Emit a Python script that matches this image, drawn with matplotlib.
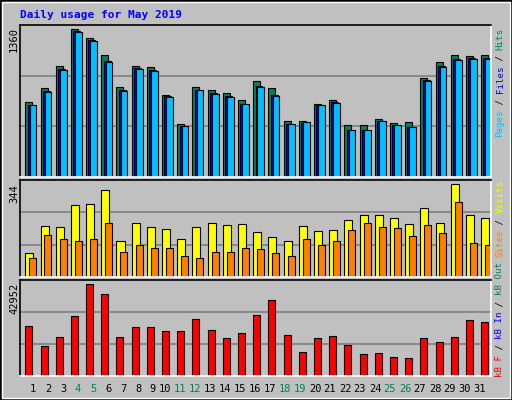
import numpy as np
import matplotlib
matplotlib.use("Agg")
import matplotlib.pyplot as plt
from matplotlib.patches import Rectangle

days = list(range(1, 32))
weekend = [4, 5, 11, 12, 18, 19, 25, 26]

hits = [685, 814, 1016, 1357, 1274, 1118, 823, 1016, 1007, 758, 491, 823, 795, 768, 703, 878,
        814, 519, 519, 675, 712, 482, 482, 537, 500, 510, 906, 1053, 1118, 1108, 1118]
files = [666, 786, 989, 1338, 1256, 1062, 795, 998, 979, 740, 473, 804, 768, 743, 675, 832,
         749, 491, 500, 666, 685, 436, 436, 519, 482, 464, 887, 1016, 1081, 1090, 1090]
pages = [660, 780, 985, 1335, 1250, 1058, 790, 994, 975, 735, 470, 800, 764, 738, 670, 828,
         745, 488, 505, 660, 682, 432, 432, 515, 478, 460, 884, 1012, 1078, 1086, 1086]
visits = [87, 188, 184, 266, 270, 322, 135, 199, 184, 176, 139, 184, 199, 191, 195, 165,
          147, 135, 188, 169, 173, 210, 229, 229, 217, 195, 255, 199, 344, 229, 217]
sites = [72, 154, 139, 135, 139, 199, 94, 120, 106, 109, 76, 72, 94, 94, 106, 102,
         87, 79, 139, 117, 135, 173, 199, 184, 180, 150, 191, 161, 277, 124, 120]
kbytes = [23200, 13800, 18030, 27910, 42952, 38260, 18030, 22740, 22740, 20850, 20850, 26500,
          21320, 17560, 19910, 28380, 35440, 18970, 10980, 17560, 18500, 14270, 10040, 10510,
          9090, 8620, 17560, 15680, 18030, 26030, 25090]

GRAY = "#C0C0C0"
GREEN = "#00805C"
BLUE = "#0000FF"
LBLUE = "#00C0FF"
YELLOW = "#FFFF00"
ORANGE = "#FF8000"
RED = "#FF0000"
MONO = "DejaVu Sans Mono"

W, H = 512, 400
fig = plt.figure(figsize=(W / 100, H / 100), dpi=100, facecolor=GRAY)


def px_axes(x0, y0, x1, y1):
    return fig.add_axes([x0 / W, 1 - y1 / H, (x1 - x0) / W, (y1 - y0) / H])


def style(ax, top):
    ax.set_facecolor(GRAY)
    ax.set_xlim(0, 31)
    ax.set_ylim(0, top)
    ax.set_xticks([])
    ax.set_yticks([top / 3, 2 * top / 3])
    ax.tick_params(left=False, labelleft=False)
    ax.grid(axis="y", color="#808080", linewidth=1.2)
    ax.set_axisbelow(True)
    for s in ("left", "top"):
        ax.spines[s].set_color("black")
    for s in ("right", "bottom"):
        ax.spines[s].set_color("white")
    for s in ax.spines.values():
        s.set_linewidth(1.2)


x = np.arange(31)
ek = dict(edgecolor="black", linewidth=0.8, align="edge")

ax1 = px_axes(20, 25, 491, 177)
style(ax1, 1360 * 152 / 148)
ax1.bar(x + 0.35, hits, 0.46, color=GREEN, **ek)
ax1.bar(x + 0.50, files, 0.46, color=BLUE, **ek)
ax1.bar(x + 0.63, pages, 0.44, color=LBLUE, **ek)

ax2 = px_axes(20, 180, 491, 277)
style(ax2, 344 * 97 / 93)
ax2.bar(x + 0.35, visits, 0.53, color=YELLOW, **ek)
ax2.bar(x + 0.61, sites, 0.46, color=ORANGE, **ek)

ax3 = px_axes(20, 280, 491, 376)
style(ax3, 42952 * 96 / 92)
ax3.bar(x + 0.35, kbytes, 0.46, color=RED, **ek)

# day labels
for d in days:
    px = 33 + 15 * (d - 1) if d < 10 else 165 + 15 * (d - 10)
    fig.text(px / W, 1 - 389 / H, str(d), ha="center", va="center", fontsize=7.5,
             family=MONO, color=GREEN if d in weekend else "black")

fig.text(20 / W, 1 - 15 / H, "Daily usage for May 2019", ha="left", va="center",
         fontsize=8, family=MONO, weight="bold", color=BLUE)

for label, ytop in (("1360", 27), ("344", 184), ("42952", 283)):
    fig.text(14 / W, 1 - ytop / H, label, rotation=90, ha="center", va="top",
             fontsize=7.5, family=MONO)


def side_label(parts, ybottom):
    step = 5.45
    y = ybottom
    for txt, col in parts:
        fig.text(500 / W, 1 - y / H, txt, rotation=90, ha="center", va="bottom",
                 fontsize=6.6, family=MONO, color=col)
        y -= step * len(txt)


side_label([("Pages", LBLUE), (" / ", "black"), ("Files", BLUE), (" / ", "black"),
            ("Hits", GREEN)], 137)
side_label([("Sites", ORANGE), (" / ", "black"), ("Visits", YELLOW)], 257)
side_label([("kB F", RED), (" / ", "black"), ("kB In", BLUE), (" / ", "black"),
            ("kB Out", GREEN)], 377)

fig.patches.append(Rectangle((0, 0), 1, 1, transform=fig.transFigure, fill=False,
                             edgecolor="black", linewidth=2))
fig.patches.append(Rectangle((2 / W, 2 / H), 1 - 4 / W, 1 - 4 / H, transform=fig.transFigure,
                             fill=False, edgecolor="white", linewidth=1))

fig.savefig("out.png", dpi=100, facecolor=GRAY)
